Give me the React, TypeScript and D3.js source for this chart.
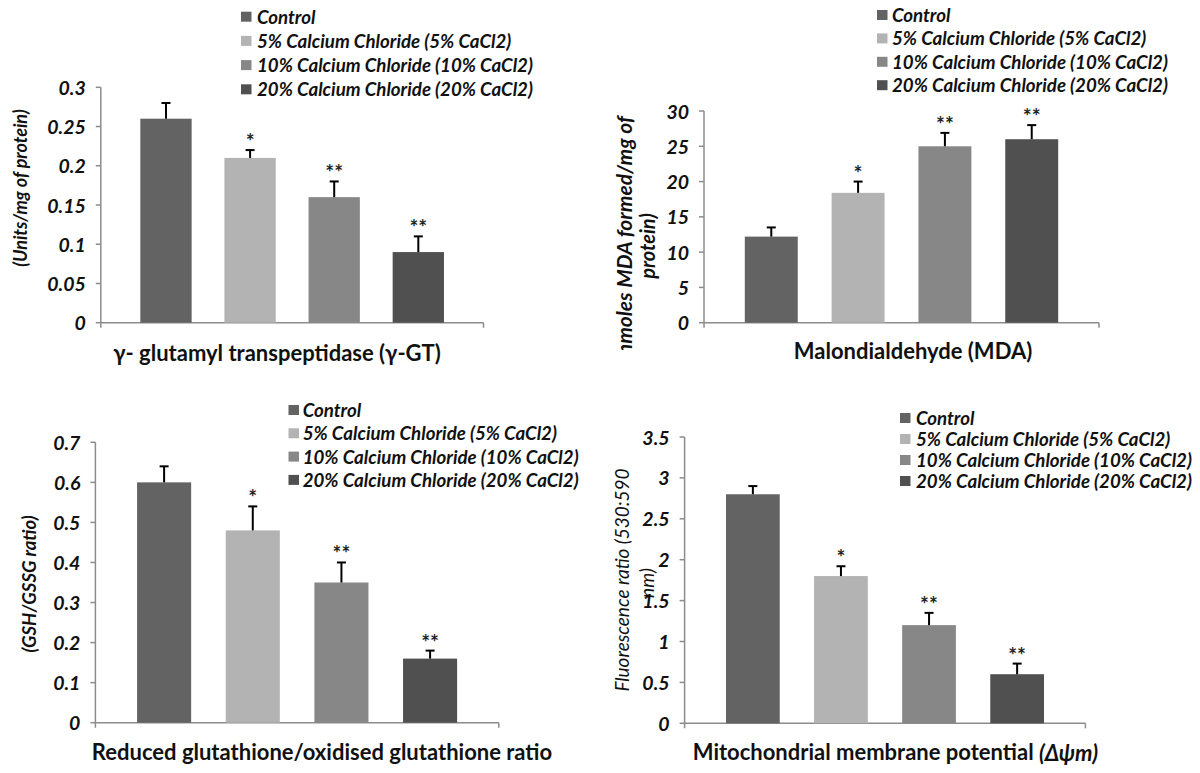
import React from "react";
import * as d3 from "d3";

const SERIES = [
  "Control",
  "5% Calcium Chloride (5% CaCl2)",
  "10% Calcium Chloride (10% CaCl2)",
  "20% Calcium Chloride (20% CaCl2)",
];
const COLORS = ["#636363", "#b3b3b3", "#878787", "#505050"];
const STARS = ["", "*", "**", "**"];

const GGT_VALUES = [0.26, 0.21, 0.16, 0.09];
const GGT_ERRORS = [0.02, 0.01, 0.02, 0.02];
const GGT_TICKS = [0, 0.05, 0.1, 0.15, 0.2, 0.25, 0.3];

const MDA_VALUES = [12.2, 18.4, 25.0, 26.0];
const MDA_ERRORS = [1.3, 1.6, 1.9, 2.0];
const MDA_TICKS = [0, 5, 10, 15, 20, 25, 30];

const GSH_VALUES = [0.6, 0.48, 0.35, 0.16];
const GSH_ERRORS = [0.04, 0.06, 0.05, 0.02];
const GSH_TICKS = [0, 0.1, 0.2, 0.3, 0.4, 0.5, 0.6, 0.7];

const MMP_VALUES = [2.8, 1.8, 1.2, 0.6];
const MMP_ERRORS = [0.1, 0.12, 0.15, 0.13];
const MMP_TICKS = [0, 0.5, 1, 1.5, 2, 2.5, 3, 3.5];

const FONT = "Lato, 'Open Sans', sans-serif";
const AXIS = "#8c8c8c";

type Panel = {
  id: string;
  values: number[];
  errors: number[];
  ticks: number[];
  x0: number;
  x1: number;
  yTop: number;
  yBot: number;
  legendMx: number;
  legendTx: number;
  legendY0: number;
  legendDy: number;
  xTitle: React.ReactNode;
  xTitleX: number;
  xTitleY: number;
  yTitle: React.ReactNode;
};

function ChartPanel({ p }: { p: Panel }) {
  const maxTick = p.ticks[p.ticks.length - 1];
  const y = d3.scaleLinear().domain([0, maxTick]).range([p.yBot, p.yTop]);
  const x = d3
    .scaleBand<string>()
    .domain(SERIES)
    .range([p.x0, p.x1])
    .paddingInner(0.39)
    .paddingOuter(0.47);
  const bw = x.bandwidth();
  return (
    <g>
      <line x1={p.x0} x2={p.x0} y1={p.yTop} y2={p.yBot + 5} stroke={AXIS} strokeWidth={1.5} />
      <line x1={p.x0} x2={p.x1} y1={p.yBot} y2={p.yBot} stroke={AXIS} strokeWidth={1.5} />
      <line x1={p.x1} x2={p.x1} y1={p.yBot} y2={p.yBot + 5} stroke={AXIS} strokeWidth={1.5} />
      {p.ticks.map((t) => (
        <g key={t}>
          <line x1={p.x0 - 5} x2={p.x0} y1={y(t)} y2={y(t)} stroke={AXIS} strokeWidth={1.5} />
          <text
            x={p.x0 - 15}
            y={y(t)}
            textAnchor="end"
            dominantBaseline="central"
            fontFamily={FONT}
            fontWeight="bold"
            fontStyle="italic"
            fontSize={19.5}
            fill="#111"
          >
            {String(t)}
          </text>
        </g>
      ))}
      {SERIES.map((s, i) => {
        const bx = x(s)!;
        const cx = bx + bw / 2;
        const top = y(p.values[i]);
        const et = y(p.values[i] + p.errors[i]);
        return (
          <g key={s}>
            <rect x={bx} y={top} width={bw} height={p.yBot - top} fill={COLORS[i]} />
            <line x1={cx} x2={cx} y1={top} y2={et} stroke="#000" strokeWidth={2} />
            <line x1={cx - 4.5} x2={cx + 4.5} y1={et} y2={et} stroke="#000" strokeWidth={2} />
            {STARS[i] && (
              <text
                x={cx}
                y={et - 1}
                textAnchor="middle"
                fontFamily={FONT}
                fontWeight="bold"
                fontSize={21}
                fill="#222"
              >
                {STARS[i]}
              </text>
            )}
          </g>
        );
      })}
      {SERIES.map((s, i) => {
        const ry = p.legendY0 + i * p.legendDy;
        return (
          <g key={"lg" + s}>
            <rect x={p.legendMx} y={ry - 5} width={10.5} height={10} fill={COLORS[i]} />
            <text
              x={p.legendTx}
              y={ry}
              dominantBaseline="central"
              fontFamily={FONT}
              fontWeight="bold"
              fontStyle="italic"
              fontSize={18.7}
              fill="#111"
            >
              {s}
            </text>
          </g>
        );
      })}
      <text
        x={p.xTitleX}
        y={p.xTitleY}
        textAnchor="middle"
        dominantBaseline="central"
        fontFamily={FONT}
        fontWeight="bold"
        fontSize={22}
        fill="#111"
      >
        {p.xTitle}
      </text>
      {p.yTitle}
    </g>
  );
}

export default function App() {
  const rotT = (x: number, y: number) => `translate(${x},${y}) rotate(-90)`;
  const panels: Panel[] = [
    {
      id: "ggt",
      values: GGT_VALUES,
      errors: GGT_ERRORS,
      ticks: GGT_TICKS,
      x0: 100.8,
      x1: 483.5,
      yTop: 87.3,
      yBot: 322.7,
      legendMx: 241,
      legendTx: 257,
      legendY0: 16.7,
      legendDy: 24.2,
      xTitle: "γ- glutamyl transpeptidase (γ-GT)",
      xTitleX: 277,
      xTitleY: 352,
      yTitle: (
        <text
          transform={rotT(19.5, 188)}
          textAnchor="middle"
          dominantBaseline="central"
          fontFamily={FONT}
          fontWeight="bold"
          fontStyle="italic"
          fontSize={18}
          fill="#111"
        >
          (Units/mg of protein)
        </text>
      ),
    },
    {
      id: "mda",
      values: MDA_VALUES,
      errors: MDA_ERRORS,
      ticks: MDA_TICKS,
      x0: 704,
      x1: 1099,
      yTop: 111,
      yBot: 322.7,
      legendMx: 877,
      legendTx: 892,
      legendY0: 15,
      legendDy: 23.4,
      xTitle: "Malondialdehyde (MDA)",
      xTitleX: 913,
      xTitleY: 350,
      yTitle: (
        <g clipPath="url(#mdaClip)">
          <text
            transform={rotT(623, 116)}
            textAnchor="end"
            dominantBaseline="central"
            fontFamily={FONT}
            fontWeight="bold"
            fontStyle="italic"
            fontSize={21}
            fill="#111"
          >
            (nmoles MDA formed/mg of
          </text>
          <text
            transform={rotT(647, 246)}
            textAnchor="middle"
            dominantBaseline="central"
            fontFamily={FONT}
            fontWeight="bold"
            fontStyle="italic"
            fontSize={20}
            fill="#111"
          >
            protein)
          </text>
        </g>
      ),
    },
    {
      id: "gsh",
      values: GSH_VALUES,
      errors: GSH_ERRORS,
      ticks: GSH_TICKS,
      x0: 95.4,
      x1: 498.8,
      yTop: 442.3,
      yBot: 722.7,
      legendMx: 288.5,
      legendTx: 302.7,
      legendY0: 410,
      legendDy: 23.3,
      xTitle: "Reduced glutathione/oxidised glutathione ratio",
      xTitleX: 322,
      xTitleY: 751.7,
      yTitle: (
        <text
          transform={rotT(28.8, 584)}
          textAnchor="middle"
          dominantBaseline="central"
          fontFamily={FONT}
          fontWeight="bold"
          fontStyle="italic"
          fontSize={18.5}
          fill="#111"
        >
          (GSH/GSSG ratio)
        </text>
      ),
    },
    {
      id: "mmp",
      values: MMP_VALUES,
      errors: MMP_ERRORS,
      ticks: MMP_TICKS,
      x0: 684.6,
      x1: 1085.4,
      yTop: 437,
      yBot: 723.3,
      legendMx: 900,
      legendTx: 916,
      legendY0: 418,
      legendDy: 21,
      xTitle: (
        <>
          Mitochondrial membrane potential <tspan fontStyle="italic">(Δψm)</tspan>
        </>
      ),
      xTitleX: 895.5,
      xTitleY: 751.7,
      yTitle: (
        <g>
          <text
            transform={rotT(621, 580)}
            textAnchor="middle"
            dominantBaseline="central"
            fontFamily={FONT}
            fontStyle="italic"
            fontSize={19}
            fill="#111"
          >
            Fluorescence ratio (530:590
          </text>
          <text
            transform={rotT(646, 583)}
            textAnchor="middle"
            dominantBaseline="central"
            fontFamily={FONT}
            fontStyle="italic"
            fontSize={19}
            fill="#111"
          >
            nm)
          </text>
        </g>
      ),
    },
  ];
  return (
    <svg
      width={1200}
      height={773}
      style={{ position: "absolute", left: 0, top: 0, background: "#fff" }}
    >
      <defs>
        <clipPath id="mdaClip">
          <rect x={600} y={0} width={600} height={350} />
        </clipPath>
      </defs>
      <rect width={1200} height={773} fill="#fff" />
      {panels.map((p) => (
        <ChartPanel key={p.id} p={p} />
      ))}
    </svg>
  );
}
